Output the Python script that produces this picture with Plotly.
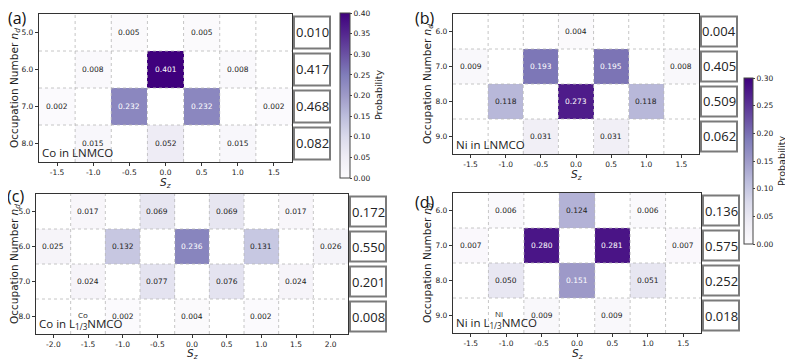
import plotly.graph_objects as go

# page body adds an 8px margin, so the figure is 8px smaller and positions are shifted
OFF = 8
W, H = 793 - OFF, 362 - OFF

# panel (a): Co in LNMCO
sz_a = [-1.5, -1.0, -0.5, 0.0, 0.5, 1.0, 1.5]
nd_a = [5, 6, 7, 8]
prob_a = [
    [0, 0, 0.005, 0, 0.005, 0, 0],
    [0, 0.008, 0, 0.401, 0, 0.008, 0],
    [0.002, 0, 0.232, 0, 0.232, 0, 0.002],
    [0, 0.015, 0, 0.052, 0, 0.015, 0],
]
sum_a = [0.010, 0.417, 0.468, 0.082]

# panel (b): Ni in LNMCO
sz_b = [-1.5, -1.0, -0.5, 0.0, 0.5, 1.0, 1.5]
nd_b = [6, 7, 8, 9]
prob_b = [
    [0, 0, 0, 0.004, 0, 0, 0],
    [0.009, 0, 0.193, 0, 0.195, 0, 0.008],
    [0, 0.118, 0, 0.273, 0, 0.118, 0],
    [0, 0, 0.031, 0, 0.031, 0, 0],
]
sum_b = [0.004, 0.405, 0.509, 0.062]

# panel (c): Co in L(Co)1/3 NMCO
sz_c = [-2.0, -1.5, -1.0, -0.5, 0.0, 0.5, 1.0, 1.5, 2.0]
nd_c = [5, 6, 7, 8]
prob_c = [
    [0, 0.017, 0, 0.069, 0, 0.069, 0, 0.017, 0],
    [0.025, 0, 0.132, 0, 0.236, 0, 0.131, 0, 0.026],
    [0, 0.024, 0, 0.077, 0, 0.076, 0, 0.024, 0],
    [0, 0, 0.002, 0, 0.004, 0, 0.002, 0, 0],
]
sum_c = [0.172, 0.550, 0.201, 0.008]

# panel (d): Ni in L(Ni)1/3 NMCO
sz_d = [-1.5, -1.0, -0.5, 0.0, 0.5, 1.0, 1.5]
nd_d = [6, 7, 8, 9]
prob_d = [
    [0, 0.006, 0, 0.124, 0, 0.006, 0],
    [0.007, 0, 0.280, 0, 0.281, 0, 0.007],
    [0, 0.050, 0, 0.151, 0, 0.051, 0],
    [0, 0, 0.009, 0, 0.009, 0, 0],
]
sum_d = [0.136, 0.575, 0.252, 0.018]

vmax_1 = 0.40   # shared by (a), (c)
vmax_2 = 0.30   # shared by (b), (d)


def px(x):
    return (x - OFF) / W


def py(y):
    return 1 - (y - OFF) / H


# pixel boxes of each heatmap: (left, right, top, bottom), plus title positions
panels = [
    dict(n="", sz=sz_a, nd=nd_a, z=prob_a, s=sum_a, box=(39, 292, 14, 162), ca="coloraxis", vmax=vmax_1,
         tag="(a)", tagpos=(17, 18), ion="Co", host=None, xt_y=183, yt_x=15),
    dict(n="2", sz=sz_b, nd=nd_b, z=prob_b, s=sum_b, box=(453, 699, 14, 154), ca="coloraxis2", vmax=vmax_2,
         tag="(b)", tagpos=(425, 18), ion="Ni", host=None, xt_y=175, yt_x=428),
    dict(n="3", sz=sz_c, nd=nd_c, z=prob_c, s=sum_c, box=(36, 348, 194, 334), ca="coloraxis", vmax=vmax_1,
         tag="(c)", tagpos=(15, 196), ion="Co", host="Co", xt_y=354, yt_x=15),
    dict(n="4", sz=sz_d, nd=nd_d, z=prob_d, s=sum_d, box=(453, 701, 193, 333), ca="coloraxis2", vmax=vmax_2,
         tag="(d)", tagpos=(425, 202), ion="Ni", host="Ni", xt_y=354, yt_x=428),
]

fig = go.Figure()
shapes, annos = [], []
tickfont = dict(family="DejaVu Sans", size=7.5, color="#222")
title_font = dict(family="DejaVu Sans", size=10.5, color="#222")

for p in panels:
    n = p["n"]
    xa, ya = "x" + n, "y" + n
    l, r, t, b = p["box"]
    zz = [[v if v > 0 else None for v in row] for row in p["z"]]
    fig.add_trace(go.Heatmap(x=p["sz"], y=p["nd"], z=zz, coloraxis=p["ca"],
                             xaxis=xa, yaxis=ya, hoverongaps=False))

    axis_common = dict(tickfont=tickfont, ticks="outside", ticklen=3, tickcolor="#333",
                       showgrid=False, zeroline=False, showline=True, mirror=True,
                       linecolor="#333", linewidth=1.2, automargin=False)
    fig.update_layout(**{
        "xaxis" + n: dict(axis_common, domain=[px(l), px(r)], anchor=ya,
                          range=[p["sz"][0] - 0.25, p["sz"][-1] + 0.25],
                          tickvals=p["sz"], ticktext=[f"{v:.1f}" for v in p["sz"]]),
        "yaxis" + n: dict(axis_common, domain=[py(b), py(t)], anchor=xa,
                          range=[p["nd"][-1] + 0.5, p["nd"][0] - 0.5],
                          tickvals=p["nd"], ticktext=[f"{v:.1f}" for v in p["nd"]]),
    })

    # axis titles
    annos.append(dict(xref=xa + " domain", yref="paper", x=0.5, y=py(p["xt_y"]),
                      text="<i>S</i><sub><i>z</i></sub>", showarrow=False,
                      xanchor="center", yanchor="middle", font=title_font))
    annos.append(dict(xref="paper", yref=ya + " domain", x=px(p["yt_x"]), y=0.5,
                      text="Occupation Number <i>n<sub>d</sub></i>", textangle=-90, showarrow=False,
                      xanchor="center", yanchor="middle", font=title_font))

    # dotted cell boundaries
    for i in range(len(p["sz"]) - 1):
        xv = (p["sz"][i] + p["sz"][i + 1]) / 2
        shapes.append(dict(type="line", xref=xa, yref=ya + " domain", x0=xv, x1=xv, y0=0, y1=1,
                           line=dict(color="#b8b8b8", width=0.8, dash="dot"), layer="above"))
    for j in range(len(p["nd"]) - 1):
        yv = (p["nd"][j] + p["nd"][j + 1]) / 2
        shapes.append(dict(type="line", xref=xa + " domain", yref=ya, x0=0, x1=1, y0=yv, y1=yv,
                           line=dict(color="#b8b8b8", width=0.8, dash="dot"), layer="above"))

    # cell values
    for j, row in enumerate(p["z"]):
        for i, v in enumerate(row):
            if v > 0:
                annos.append(dict(xref=xa, yref=ya, x=p["sz"][i], y=p["nd"][j], text=f"{v:.3f}",
                                  showarrow=False, xanchor="center", yanchor="middle",
                                  font=dict(family="DejaVu Sans", size=7.5,
                                            color="white" if v / p["vmax"] > 0.45 else "#222")))

    # row-sum boxes to the right
    wpx = r - l
    bx0, bx1 = 1 + 2 / wpx, 1 + 38 / wpx
    for j, s in enumerate(p["s"]):
        shapes.append(dict(type="rect", xref=xa + " domain", yref=ya, x0=bx0, x1=bx1,
                           y0=p["nd"][j] - 0.43, y1=p["nd"][j] + 0.43,
                           line=dict(color="#7a7a7a", width=2), fillcolor="white"))
        annos.append(dict(xref=xa + " domain", yref=ya, x=(bx0 + bx1) / 2, y=p["nd"][j],
                          text=f"{s:.3f}", showarrow=False, xanchor="center", yanchor="middle",
                          font=dict(family="Open Sans", size=13, color="#222")))

    # panel tag
    annos.append(dict(xref="paper", yref="paper", x=px(p["tagpos"][0]), y=py(p["tagpos"][1]),
                      text=p["tag"], showarrow=False, xanchor="center", yanchor="middle",
                      font=dict(family="Open Sans", size=16, color="#111")))

    # material label inside the plot
    lab_font = dict(family="Open Sans", size=11.5, color="#222")
    base = dict(xref=xa + " domain", yref=ya + " domain", x=0, y=0, xshift=1,
                xanchor="left", yanchor="bottom", showarrow=False)
    if p["host"] is None:
        annos.append(dict(base, text=f"{p['ion']} in LNMCO", font=lab_font))
    else:
        annos.append(dict(base, text=f"{p['ion']} in L<sub>1/3</sub>NMCO", font=lab_font))
        annos.append(dict(base, xshift=40, yshift=12, text=p["host"],
                          font=dict(family="Open Sans", size=8, color="#222")))

# colorbar titles as rotated labels
annos.append(dict(xref="paper", yref="paper", x=px(378), y=py(95), text="Probability",
                  textangle=-90, showarrow=False, xanchor="center", yanchor="middle",
                  font=dict(family="DejaVu Sans", size=9.5, color="#222")))
annos.append(dict(xref="paper", yref="paper", x=px(782), y=py(161), text="Probability",
                  textangle=-90, showarrow=False, xanchor="center", yanchor="middle",
                  font=dict(family="DejaVu Sans", size=9.5, color="#222")))

cb_common = dict(thickness=10, outlinewidth=1, outlinecolor="#444", ticks="outside", ticklen=2,
                 tickformat=".2f", dtick=0.05, tickfont=dict(family="DejaVu Sans", size=7.5, color="#222"),
                 xanchor="left", yanchor="middle", xpad=0, ypad=0)

fig.update_layout(
    width=W, height=H,
    margin=dict(l=0, r=0, t=0, b=0, autoexpand=False),
    paper_bgcolor="white", plot_bgcolor="white",
    coloraxis=dict(colorscale="Purples", cmin=0, cmax=vmax_1,
                   colorbar=dict(cb_common, x=px(340), y=py(95.5), len=165 / H)),
    coloraxis2=dict(colorscale="Purples", cmin=0, cmax=vmax_2,
                    colorbar=dict(cb_common, thickness=9, x=px(744), y=py(161), len=166 / H)),
    shapes=shapes,
    annotations=annos,
    showlegend=False,
)

fig.write_html("out.html")
